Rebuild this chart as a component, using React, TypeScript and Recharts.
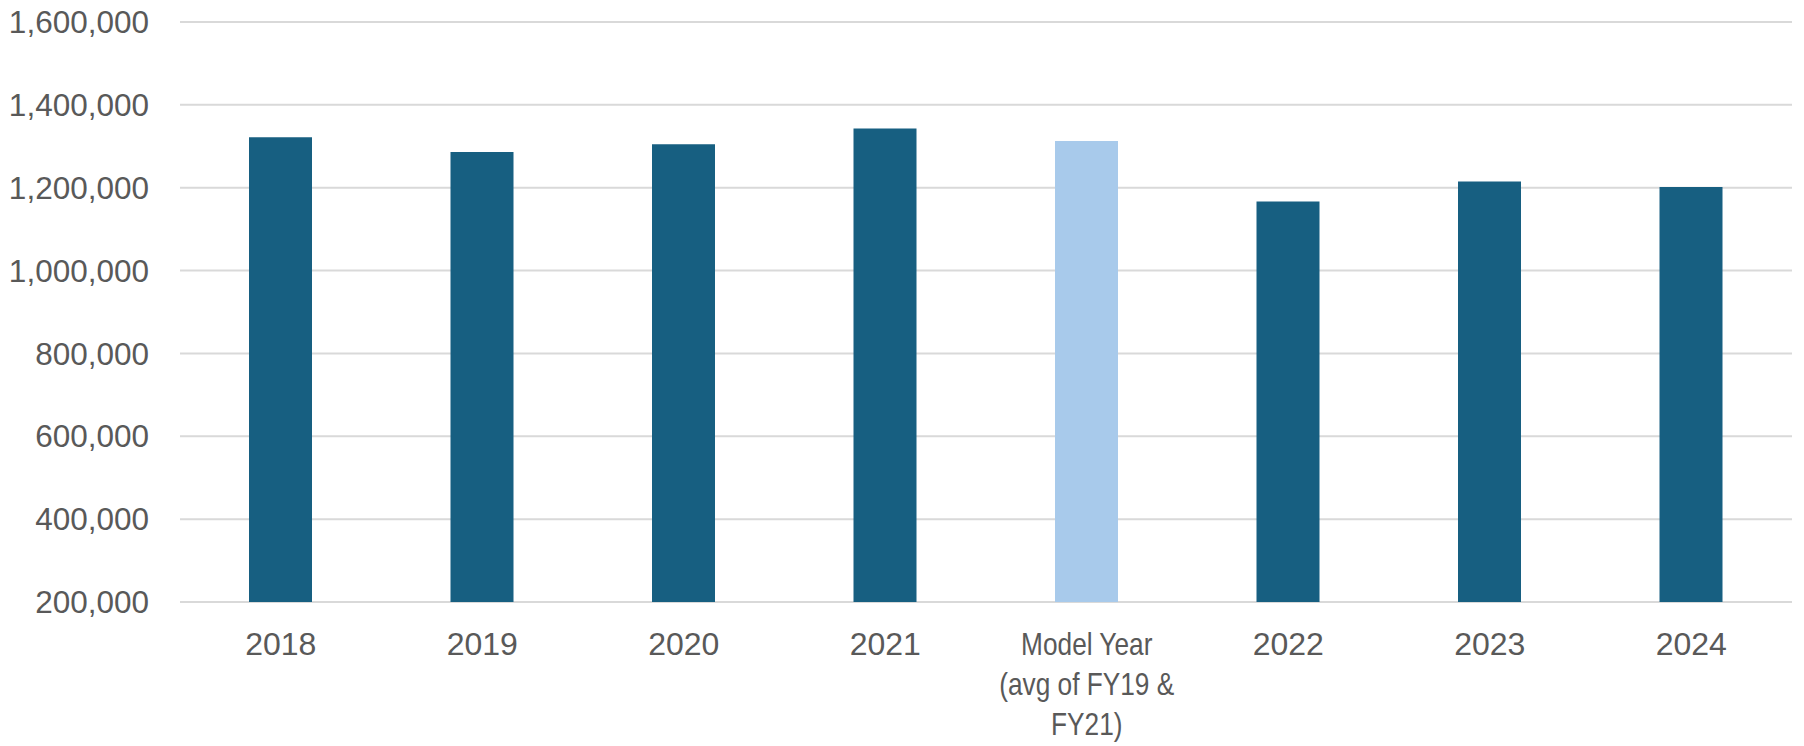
import { BarChart, Bar, XAxis, YAxis, CartesianGrid, Cell } from 'recharts'

// categories along the x axis ("\n" splits the label over lines)
const categories = ['2018', '2019', '2020', '2021', 'Model Year\n(avg of FY19 &\nFY21)', '2022', '2023', '2024']
// values
const values = [1322000, 1286000, 1305000, 1343000, 1313000, 1167000, 1215000, 1202000]
// which bars are the light (model year) one
const highlighted = [false, false, false, false, true, false, false, false]
const yTicks = [200000, 400000, 600000, 800000, 1000000, 1200000, 1400000, 1600000]

const data = categories.map((name, i) => ({ name, value: values[i], light: highlighted[i] }))

const DARK = '#175f81'
const LIGHT = '#a8caeb'
const TEXT = '#595959'
const FONT = 'Liberation Sans, Arial, sans-serif'

function CategoryTick({ x, y, payload }: any) {
  const lines = String(payload.value).split('\n')
  const narrow = lines.length > 1
  return (
    <g transform={`translate(${x},${y})${narrow ? ' scale(0.82,1)' : ''}`}>
      <text textAnchor="middle" fill={TEXT} fontSize={32} fontFamily={FONT}>
        {lines.map((line, i) => (
          <tspan key={i} x={0} y={22 + i * 40}>
            {line}
          </tspan>
        ))}
      </text>
    </g>
  )
}

export default function App() {
  return (
    <div style={{ position: 'absolute', left: 0, top: 0, background: '#fff' }}>
      <BarChart
        width={1804}
        height={746}
        data={data}
        margin={{ top: 22, right: 12, left: 0, bottom: 0 }}
      >
        <CartesianGrid vertical={false} stroke="#d9d9d9" strokeWidth={2} />
        <XAxis
          dataKey="name"
          height={144}
          axisLine={false}
          tickLine={false}
          interval={0}
          tickMargin={25}
          tick={<CategoryTick />}
        />
        <YAxis
          width={180}
          domain={[200000, 1600000]}
          ticks={yTicks}
          allowDataOverflow
          axisLine={false}
          tickLine={false}
          tickMargin={25}
          tickFormatter={(v: number) => v.toLocaleString('en-US')}
          tick={{ fill: TEXT, fontSize: 31.5, fontFamily: FONT }}
        />
        <Bar dataKey="value" barSize={63} isAnimationActive={false}>
          {data.map((d, i) => (
            <Cell key={i} fill={d.light ? LIGHT : DARK} />
          ))}
        </Bar>
      </BarChart>
    </div>
  )
}
